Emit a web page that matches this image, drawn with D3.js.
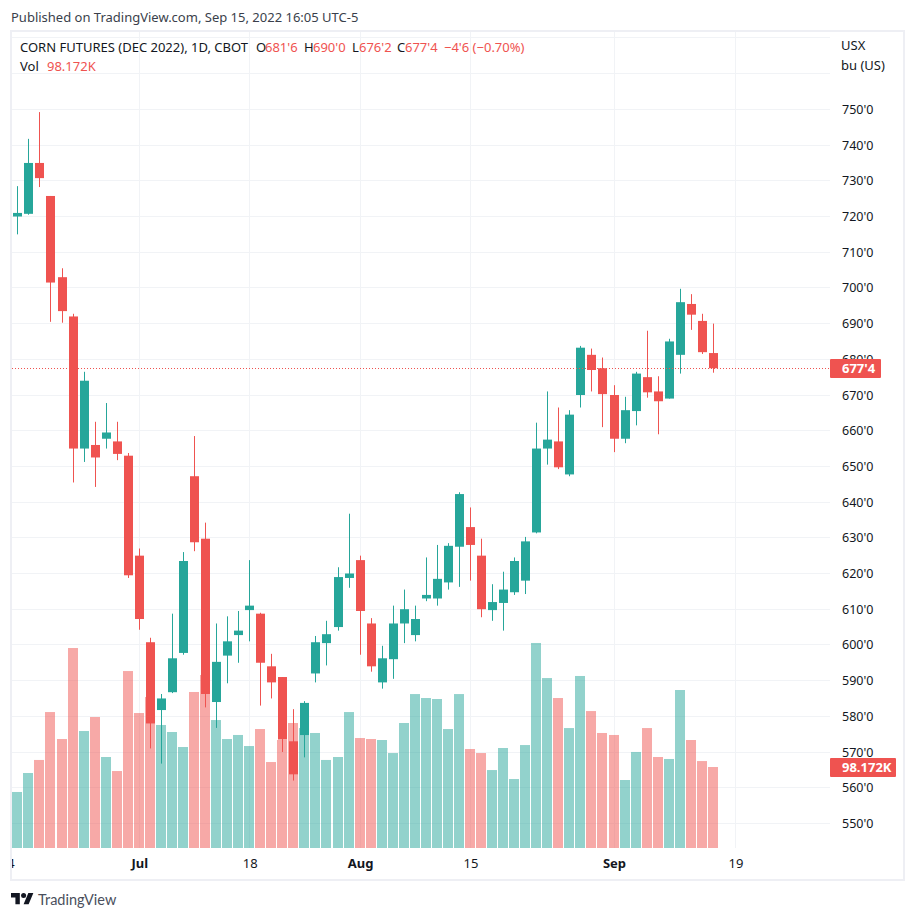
<!DOCTYPE html>
<html>
<head>
<meta charset="utf-8">
<title>Corn Futures</title>
<script src="https://cdn.jsdelivr.net/npm/d3@7/dist/d3.min.js"></script>
<style>
    body { margin: 0; background: #fff; }
    text { font-family: "Noto Sans", sans-serif; font-size: 13px; fill: #131722; }
    .axis path, .axis line { display: none; }
    .axis text { font-size: 12.5px; fill: #131722; }
    .timeAxis text { font-size: 13px; }
</style>
</head>
<body>
<script>
//trading days shown, plus one day before and two after for the time axis
var axisDates = ["Jun 14",
    "Jun 15","Jun 16","Jun 17","Jun 21","Jun 22","Jun 23","Jun 24","Jun 27","Jun 28","Jun 29","Jun 30",
    "Jul 1","Jul 5","Jul 6","Jul 7","Jul 8","Jul 11","Jul 12","Jul 13","Jul 14","Jul 15","Jul 18","Jul 19",
    "Jul 20","Jul 21","Jul 22","Jul 25","Jul 26","Jul 27","Jul 28","Jul 29",
    "Aug 1","Aug 2","Aug 3","Aug 4","Aug 5","Aug 8","Aug 9","Aug 10","Aug 11","Aug 12","Aug 15","Aug 16",
    "Aug 17","Aug 18","Aug 19","Aug 22","Aug 23","Aug 24","Aug 25","Aug 26","Aug 29","Aug 30","Aug 31",
    "Sep 1","Sep 2","Sep 6","Sep 7","Sep 8","Sep 9","Sep 12","Sep 13","Sep 14","Sep 15",
    "Sep 16","Sep 19"];

var opens = [720,720.75,735,725.75,703,692,655,656,657.75,657,653,625,
    600.75,581.75,586.75,597.75,647.25,629.75,584,597,602.75,609.75,608.75,594,
    591,573,574.75,592,600.5,605,618.75,623.75,606,589.5,596,606,602.75,613,
    613,617.5,627.5,633,625,609.75,611.75,614.75,618,631.5,655,657,647.75,670,
    681.25,677.5,670,657.75,665.5,675,671,669,681.25,695.5,690.75,681.75];
var highs = [728.5,741.75,749.25,725.75,705.5,692.75,676.5,662.5,667.75,662.5,653.75,627,
    602,586.25,608.75,626,658.5,634.25,606,608,609.5,623.75,609,597.5,
    591,582,584.25,602.5,606.75,621.75,636.75,625,607.5,599.75,611,615.5,611,624.5,
    628,628.5,642.75,638.5,629.75,617,620.5,624.5,630.25,662.25,671,666.5,665.75,683.75,
    683,680.5,672.75,669.5,676.5,688,675.25,685.75,699.75,698.25,692.75,690];
var lows = [715,720.5,728.25,690.5,690.25,645.5,651.25,644.25,655,651.75,618.75,604.25,
    571,566.75,586.5,597.25,626.25,582.5,576.75,589.25,595,601,583,585,
    570,562,568.5,589.5,594.25,604,616,597.25,592.5,587.75,590.5,600.5,601,612.25,
    611,615.5,616.25,618,607.75,606.75,604,614,614.25,631.25,650.5,649.25,647.25,666.5,
    671,661,654,656.5,661.5,669.25,659,669,676,688.25,681.5,676.25];
var closes = [721,735,730.75,701.5,693.5,655,674,652.5,659.5,653.5,619.5,607.25,
    578,585,596.25,623.5,628.75,586.25,595.25,601,604,611,595,589.5,
    573.5,563.75,583.75,600.75,603,619,620,609.5,594,596.25,606,610,607.25,614,
    618.5,627.75,642.25,628,610,612,615.5,623.5,629,655,657.5,649.75,664.5,683.25,
    677,670.25,657.75,665.75,676,670.75,668.25,685,696,692.5,682,677.5];
var volumes = [67.9,90.9,106.7,164.8,132.1,242.4,141.8,158.8,110.3,93.3,214.5,163.6,
    183,149.1,140.6,122.4,189.1,209.7,155.1,132.1,137,123.6,144.2,104.2,
    130.9,151.5,145.4,139.4,106.7,110.3,164.8,133.3,132.1,130.9,115.1,151.5,186.6,181.8,
    180.6,144.2,186.6,120,115.1,94.5,121.2,83.6,124.8,248.5,206,181.8,145.4,208.5,
    166,139.4,137,82.4,116.4,145.4,110.3,107.9,191.5,130.9,105.4,98.172];

var priceTicks = [550,560,570,580,590,600,610,620,630,640,650,660,670,680,690,700,710,720,730,740,750];
var gridPrices = priceTicks.concat([760,770]);
var timeTicks = ["Jun 14","Jul 1","Jul 18","Aug 1","Aug 15","Sep 1","Sep 19"];
var timeLabels = ["14","Jul","18","Aug","15","Sep","19"];
var monthLabels = ["Jul","Aug","Sep"];

var lastClose = 677.5,
    lastVolume = "98.172K",
    lastChange = "\u22124'6 (\u22120.70%)";

var upColor = "#26a69a",
    downColor = "#ef5350",
    gridColor = "#f1f3f6",
    frameColor = "#eeeff4";

window.onload = setChart();

function setChart(){
    //chart frame dimensions
    var width = 915,
        height = 919,
        paneLeft = 12,
        paneRight = 830,
        paneTop = 32,
        paneBottom = 848;

    var tradingDates = axisDates.slice(1, 65);

    //one row per candle
    var candles = tradingDates.map(function(date, i){
        return {date: date, open: opens[i], high: highs[i], low: lows[i], close: closes[i], volume: volumes[i]};
    });

    var svg = d3.select("body")
        .append("svg")
        .attr("width", width)
        .attr("height", height)
        .style("display", "block");

    //scales
    var x = d3.scalePoint()
        .domain(axisDates)
        .range([6.81, 735.45]);

    var y = d3.scaleLinear()
        .domain([550, 750])
        .range([823.4, 109.4]);

    var yVolume = d3.scaleLinear()
        .domain([0, 250])
        .range([848, 641.75]);

    //wicks sit on whole pixels, bodies are built around them
    function px(d){
        return Math.floor(x(d.date));
    }
    function candleColor(d){
        return d.close >= d.open ? upColor : downColor;
    }

    svg.append("text")
        .attr("x", 11)
        .attr("y", 22)
        .style("fill", "#3a3f4b")
        .text("Published on TradingView.com, Sep 15, 2022 16:05 UTC-5");

    //clip for everything inside the pane
    var defs = svg.append("defs");
    defs.append("clipPath")
        .attr("id", "pane")
        .append("rect")
        .attr("x", paneLeft)
        .attr("y", paneTop)
        .attr("width", paneRight - paneLeft)
        .attr("height", paneBottom - paneTop);
    defs.append("clipPath")
        .attr("id", "timeClip")
        .append("rect")
        .attr("x", paneLeft)
        .attr("y", paneBottom)
        .attr("width", paneRight - paneLeft)
        .attr("height", 31);

    var pane = svg.append("g").attr("clip-path", "url(#pane)");

    //grid
    pane.selectAll(".gridH")
        .data(gridPrices)
        .enter()
        .append("line")
        .attr("class", "gridH")
        .attr("x1", paneLeft)
        .attr("x2", paneRight)
        .attr("y1", function(d){ return Math.floor(y(d)) + 0.5; })
        .attr("y2", function(d){ return Math.floor(y(d)) + 0.5; })
        .style("stroke", gridColor);

    pane.selectAll(".gridV")
        .data(timeTicks)
        .enter()
        .append("line")
        .attr("class", "gridV")
        .attr("x1", function(d){ return Math.floor(x(d)) + 0.5; })
        .attr("x2", function(d){ return Math.floor(x(d)) + 0.5; })
        .attr("y1", paneTop)
        .attr("y2", paneBottom)
        .style("stroke", gridColor);

    //volume bars
    pane.selectAll(".volume")
        .data(candles)
        .enter()
        .append("rect")
        .attr("class", "volume")
        .attr("x", function(d){ return px(d) - 5; })
        .attr("width", 10)
        .attr("y", function(d){ return yVolume(d.volume); })
        .attr("height", function(d){ return yVolume(0) - yVolume(d.volume); })
        .style("fill", candleColor)
        .style("fill-opacity", 0.5);

    //wicks
    pane.selectAll(".wick")
        .data(candles)
        .enter()
        .append("rect")
        .attr("class", "wick")
        .attr("x", px)
        .attr("width", 1)
        .attr("y", function(d){ return y(d.high); })
        .attr("height", function(d){ return y(d.low) - y(d.high); })
        .style("fill", candleColor);

    //bodies
    pane.selectAll(".body")
        .data(candles)
        .enter()
        .append("rect")
        .attr("class", "body")
        .attr("x", function(d){ return px(d) - 4; })
        .attr("width", 9)
        .attr("y", function(d){ return y(Math.max(d.open, d.close)); })
        .attr("height", function(d){ return Math.abs(y(d.open) - y(d.close)); })
        .style("fill", candleColor);

    //last price line
    pane.append("line")
        .attr("x1", paneLeft)
        .attr("x2", paneRight)
        .attr("y1", Math.floor(y(lastClose)) + 0.5)
        .attr("y2", Math.floor(y(lastClose)) + 0.5)
        .style("stroke", downColor)
        .style("stroke-dasharray", "1 2");

    //price axis
    svg.append("g")
        .attr("class", "axis")
        .attr("transform", "translate(" + 842 + ",0)")
        .call(d3.axisRight(y)
            .tickValues(priceTicks)
            .tickSize(0)
            .tickPadding(0)
            .tickFormat(formatPrice));

    //time axis
    var timeAxis = svg.append("g")
        .attr("clip-path", "url(#timeClip)")
        .append("g")
        .attr("class", "axis timeAxis")
        .attr("transform", "translate(0," + paneBottom + ")")
        .call(d3.axisBottom(x)
            .tickValues(timeTicks)
            .tickSize(0)
            .tickPadding(11)
            .tickFormat(function(d, i){ return timeLabels[i]; }));

    timeAxis.selectAll("text")
        .style("font-weight", function(d, i){
            return monthLabels.indexOf(timeLabels[i]) >= 0 ? "bold" : "normal";
        });

    //frame around the chart
    svg.append("rect")
        .attr("x", 11)
        .attr("y", 31)
        .attr("width", 893)
        .attr("height", 849)
        .style("fill", "none")
        .style("stroke", frameColor)
        .style("stroke-width", 2);

    //price and volume tags
    addTag(svg, Math.floor(y(lastClose)) - 9, 51, formatPrice(lastClose));
    addTag(svg, 758, 66, lastVolume);

    //unit labels
    svg.append("text").attr("x", 841).attr("y", 50).text("USX");
    svg.append("text").attr("x", 841).attr("y", 70).text("bu (US)");

    //legend, first row is title plus OHLC of the last bar
    var last = candles[candles.length - 1];
    var legendRows = [
        {x: 20, y: 52, t: "CORN FUTURES (DEC 2022), 1D, CBOT", c: "#131722"},
        {x: 256, y: 52, t: "O", c: "#131722"},
        {x: 265, y: 52, t: formatPrice(last.open), c: downColor},
        {x: 304, y: 52, t: "H", c: "#131722"},
        {x: 313, y: 52, t: formatPrice(last.high), c: downColor},
        {x: 352, y: 52, t: "L", c: "#131722"},
        {x: 359, y: 52, t: formatPrice(last.low), c: downColor},
        {x: 397, y: 52, t: "C", c: "#131722"},
        {x: 405, y: 52, t: formatPrice(last.close), c: downColor},
        {x: 444, y: 52, t: lastChange, c: downColor},
        {x: 20, y: 71, t: "Vol", c: "#131722"},
        {x: 47, y: 71, t: lastVolume, c: downColor}
    ];
    svg.selectAll(".legend")
        .data(legendRows)
        .enter()
        .append("text")
        .attr("class", "legend")
        .attr("x", function(d){ return d.x; })
        .attr("y", function(d){ return d.y; })
        .style("fill", function(d){ return d.c; })
        .text(function(d){ return d.t; });

    //TradingView mark
    var logo = svg.append("g")
        .attr("transform", "translate(11,890.5) scale(0.63)")
        .style("fill", "#131722");
    logo.append("path").attr("d", "M14 22H7V11H0V4h14v18zM28 22h-8l7.5-18h8L28 22z");
    logo.append("circle").attr("cx", 20).attr("cy", 8).attr("r", 4);

    svg.append("text")
        .attr("x", 38)
        .attr("y", 905)
        .style("font-family", "Lato, sans-serif")
        .style("font-size", "14.5px")
        .style("fill", "#4a4f5c")
        .text("TradingView");
}

//prices are quoted in eighths after the apostrophe
function formatPrice(v){
    var whole = Math.floor(v);
    return whole + "'" + Math.round((v - whole) * 8);
}

function addTag(svg, top, w, label){
    svg.append("rect")
        .attr("x", 830)
        .attr("y", top)
        .attr("width", w)
        .attr("height", 19)
        .attr("rx", 1)
        .style("fill", downColor);
    svg.append("text")
        .attr("x", 842)
        .attr("y", top + 14)
        .style("fill", "#fff")
        .style("font-weight", "bold")
        .text(label);
}
</script>
</body>
</html>
